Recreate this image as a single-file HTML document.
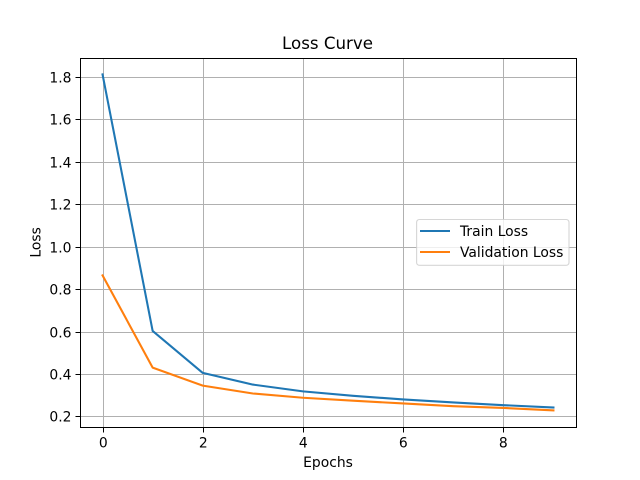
<!DOCTYPE html>
<html>
<head>
<meta charset="utf-8">
<title>Loss Curve</title>
<style>
html,body{margin:0;padding:0;background:#fff;width:640px;height:480px;overflow:hidden}
svg{display:block}
text{font-family:"DejaVu Sans",sans-serif;fill:#000}
</style>
</head>
<body>
<svg id="chart" width="640" height="480" viewBox="0 0 640 480" xmlns="http://www.w3.org/2000/svg">
<rect x="0" y="0" width="640" height="480" fill="#fff"/>
<text x="327.5" y="49" font-size="16.67" text-anchor="middle">Loss Curve</text>
<text x="328" y="467" font-size="13.89" text-anchor="middle">Epochs</text>
<text x="40.5" y="242.4" font-size="13.89" text-anchor="middle" transform="rotate(-90 40.5 242.4)">Loss</text>
<g id="grid"></g>
<g id="series"></g>
<g id="ticks"></g>
<g id="spines"></g>
<g>
<rect x="416.6" y="219.5" width="152.4" height="45.8" rx="2.8" ry="2.8" fill="#fff" fill-opacity="0.8" stroke="#ccc" stroke-opacity="0.8" stroke-width="1.11"/>
<line x1="420" y1="231" x2="450" y2="231" stroke="#1f77b4" stroke-width="2"/>
<text x="460" y="236" font-size="13.89">Train Loss</text>
<line x1="420" y1="252" x2="450" y2="252" stroke="#ff7f0e" stroke-width="2"/>
<text x="460" y="257" font-size="13.89">Validation Loss</text>
</g>
</svg>
<script>
const epochs = [0, 1, 2, 3, 4, 5, 6, 7, 8, 9];
const trainLoss = [1.8125, 0.603, 0.405, 0.350, 0.318, 0.297, 0.280, 0.266, 0.253, 0.242];
const validationLoss = [0.865, 0.430, 0.345, 0.308, 0.288, 0.274, 0.261, 0.248, 0.240, 0.2283];
const xTickValues = [0, 2, 4, 6, 8];
const yTickValues = [0.2, 0.4, 0.6, 0.8, 1.0, 1.2, 1.4, 1.6, 1.8];

const NS = 'http://www.w3.org/2000/svg';
const left = 80, right = 576, top_ = 57.6, bottom = 427.2;

const xMinData = Math.min(...epochs), xMaxData = Math.max(...epochs);
const xPad = (xMaxData - xMinData) * 0.05;
function xScale(v) {
  return left + (v - (xMinData - xPad)) / (xMaxData - xMinData + 2 * xPad) * (right - left);
}
const allLoss = trainLoss.concat(validationLoss);
const yMinData = Math.min(...allLoss), yMaxData = Math.max(...allLoss);
const yPad = (yMaxData - yMinData) * 0.05;
function yScale(v) {
  return bottom - (v - (yMinData - yPad)) / (yMaxData - yMinData + 2 * yPad) * (bottom - top_);
}
function snap(p) {
  return Math.round(p) + 0.5;
}
function mk(tag, attrs, parent) {
  const el = document.createElementNS(NS, tag);
  for (const k in attrs) el.setAttribute(k, attrs[k]);
  parent.appendChild(el);
  return el;
}
const gridG = document.getElementById('grid');
const ticksG = document.getElementById('ticks');
const seriesG = document.getElementById('series');
const spinesG = document.getElementById('spines');
const sLeft = snap(left), sRight = snap(right), sTop = snap(top_), sBottom = snap(bottom);

xTickValues.forEach(function (v) {
  const x = snap(xScale(v));
  const g = mk('line', {x1: x, x2: x, y1: sTop, y2: sBottom, stroke: '#b0b0b0', 'stroke-width': 1}, gridG);
  
  
  const t = mk('line', {x1: x, x2: x, y1: sBottom, y2: sBottom + 5, stroke: '#000', 'stroke-width': 1}, ticksG);
  
  
  const l = mk('text', {x: x - 0.2, y: 447.5, 'font-size': 13.89, 'text-anchor': 'middle'}, ticksG);
  
  
  l.textContent = String(v);
});
yTickValues.forEach(function (v) {
  const y = snap(yScale(v));
  const g = mk('line', {x1: sLeft, x2: sRight, y1: y, y2: y, stroke: '#b0b0b0', 'stroke-width': 1}, gridG);
  
  
  const t = mk('line', {x1: sLeft - 5, x2: sLeft, y1: y, y2: y, stroke: '#000', 'stroke-width': 1}, ticksG);
  
  
  const l = mk('text', {x: 71.5, y: y + 5.2, 'font-size': 13.89, 'text-anchor': 'end'}, ticksG);
  
  
  l.textContent = v.toFixed(1);
});
function pathFor(values) {
  return values.map(function (v, i) {
    return (i ? 'L' : 'M') + xScale(epochs[i]).toFixed(2) + ' ' + yScale(v).toFixed(2);
  }).join(' ');
}
const trainPath = mk('path', {d: pathFor(trainLoss), fill: 'none', stroke: '#1f77b4', 'stroke-width': 2.08, 'stroke-linecap': 'square', 'stroke-linejoin': 'round'}, seriesG);


const valPath = mk('path', {d: pathFor(validationLoss), fill: 'none', stroke: '#ff7f0e', 'stroke-width': 2.08, 'stroke-linecap': 'square', 'stroke-linejoin': 'round'}, seriesG);



const frame = mk('rect', {x: sLeft, y: sTop, width: sRight - sLeft, height: sBottom - sTop, fill: 'none', stroke: '#000', 'stroke-width': 1}, spinesG);


</script>
</body>
</html>
